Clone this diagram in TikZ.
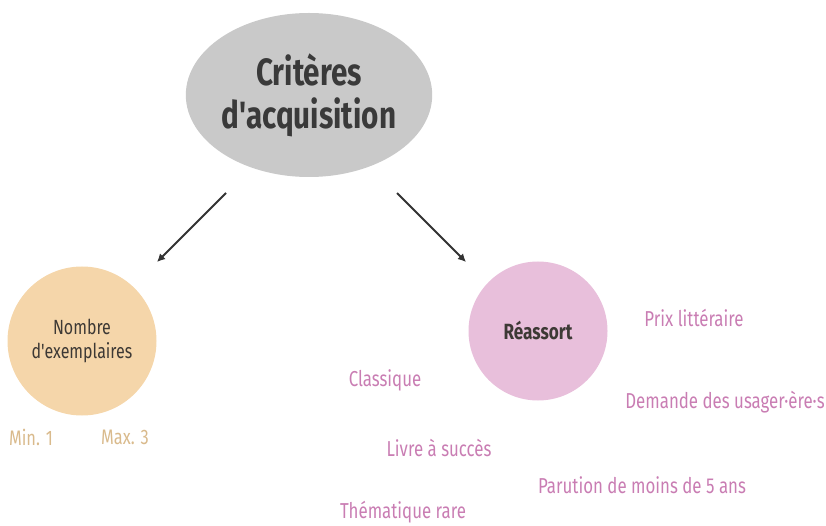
\documentclass[tikz,border=0pt]{standalone}
\usepackage{fontspec}
\setmainfont[FakeStretch=0.78, Ligatures=TeXOff]{Fira Sans}
\usetikzlibrary{arrows.meta,shapes.geometric}
\definecolor{rootfill}{HTML}{C9C9C9}
\definecolor{rootink}{HTML}{3A3A3A}
\definecolor{edgeink}{HTML}{333333}
\definecolor{qtyfill}{HTML}{F5D6AA}
\definecolor{qtyink}{HTML}{D9BA8C}
\definecolor{restockfill}{HTML}{E8BFDB}
\definecolor{restockink}{HTML}{C97DB3}
\definecolor{hubink}{HTML}{3D3935}
\tikzset{
  rootnode/.style={ellipse, fill=rootfill, minimum width=238pt, minimum height=164pt,
    inner sep=0pt, align=center, text=rootink, font=\fontsize{38}{47}\selectfont\bfseries},
  hubnode/.style={circle, inner sep=0pt, align=center, text=hubink},
  link/.style={draw=edgeink, line width=2pt, -{Latex[length=8pt,width=8pt]}},
  qtylabel/.style={text=qtyink, font=\fontsize{21}{25}\selectfont},
  restocklabel/.style={text=restockink, font=\fontsize{21.6}{26}\selectfont},
}
\begin{document}
\begin{tikzpicture}[x=1pt, y=-1pt]
\useasboundingbox (0,0) rectangle (826,526);

% root of the criteria tree
\node[rootnode] (root) at (309,95) {Critères\\[-4pt]d'acquisition};

% the two criteria
\node[hubnode, fill=qtyfill, minimum size=149pt, font=\fontsize{20.5}{24}\selectfont]
  (qty) at (82,341) {Nombre\\d'exemplaires};
\node[hubnode, fill=restockfill, minimum size=139pt, font=\fontsize{22}{26}\selectfont\bfseries]
  (restock) at (538,331) {Réassort};

% arrows from the root
\coordinate (lstart) at (226,193);
\coordinate (lend) at (157,262);
\coordinate (rstart) at (397,193);
\coordinate (rend) at (466,262);
\draw[link] (lstart) -- (lend);
\draw[link] (rstart) -- (rend);

% quantity bounds
\node[qtylabel] (min) at (31,437) {Min. 1};
\node[qtylabel] (max) at (125,437) {Max. 3};

% restocking reasons
\node[restocklabel] (prix) at (694,318) {Prix littéraire};
\node[restocklabel] (classique) at (385,380) {Classique};
\node[restocklabel] (demande) at (725,402) {Demande des usager·ère·s};
\node[restocklabel] (succes) at (439,448) {Livre à succès};
\node[restocklabel] (parution) at (642,485) {Parution de moins de 5 ans};
\node[restocklabel] (rare) at (403,512) {Thématique rare};
\end{tikzpicture}
\end{document}
